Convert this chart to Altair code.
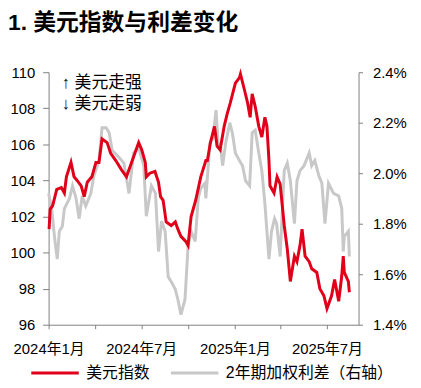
import altair as alt
import pandas as pd

# ---------------- data ----------------
dxy_dates = ["2024-01-02","2024-01-04","2024-01-09","2024-01-17","2024-01-26","2024-02-01","2024-02-05","2024-02-14","2024-02-20","2024-02-26",
             "2024-03-05","2024-03-11","2024-03-17","2024-03-26","2024-03-30","2024-04-03","2024-04-09","2024-04-15","2024-04-25","2024-05-02",
             "2024-05-12","2024-05-23","2024-06-02","2024-06-12","2024-06-26","2024-07-02","2024-07-09","2024-07-11","2024-07-18","2024-07-28",
             "2024-08-04","2024-08-08","2024-08-13","2024-08-19","2024-08-29","2024-09-06","2024-09-11","2024-09-17","2024-09-27","2024-10-01",
             "2024-10-07","2024-10-16","2024-10-26","2024-11-05","2024-11-08","2024-11-14","2024-11-22","2024-11-27","2024-12-03","2024-12-11",
             "2024-12-17","2024-12-23","2025-01-02","2025-01-10","2025-01-12","2025-01-20","2025-01-26","2025-01-31","2025-02-04","2025-02-10",
             "2025-02-17","2025-02-23","2025-03-01","2025-03-05","2025-03-09","2025-03-11","2025-03-19","2025-03-25","2025-03-31","2025-04-08",
             "2025-04-14","2025-04-20","2025-04-28","2025-05-03","2025-05-09","2025-05-13","2025-05-19","2025-05-27","2025-06-01","2025-06-11",
             "2025-06-17","2025-06-25","2025-07-01","2025-07-10","2025-07-16","2025-07-24","2025-07-30","2025-08-02","2025-08-04","2025-08-12",
             "2025-08-14"]
dxy_values = [101.3,102.4,102.6,103.5,103.6,103.3,104.2,105.0,104.2,104.0,
              103.7,103.1,103.9,104.2,104.6,105.0,105.0,106.3,106.1,105.5,
              105.1,104.6,104.2,105.0,106.1,105.7,105.0,104.2,104.4,104.5,
              103.9,103.1,102.9,101.7,101.5,101.7,101.3,100.9,100.6,100.4,
              102.0,102.9,104.2,105.1,105.1,106.1,107.0,105.9,105.7,107.0,
              107.7,108.3,109.4,109.7,109.9,109.0,108.3,107.5,108.8,108.1,
              107.0,106.4,107.5,107.0,105.1,103.7,103.3,104.2,103.8,101.5,
              100.2,98.4,99.8,99.5,100.4,101.3,99.8,99.5,99.1,98.9,
              98.0,97.6,96.9,97.6,98.5,97.3,98.7,99.8,98.9,98.4,
              97.8]

spread_dates = ["2024-01-01","2024-01-07","2024-01-13","2024-01-18","2024-01-22","2024-01-28","2024-02-01","2024-02-11","2024-02-17","2024-02-24",
                "2024-03-01","2024-03-07","2024-03-14","2024-03-24","2024-03-30","2024-04-09","2024-04-15","2024-04-23","2024-04-29","2024-05-05",
                "2024-05-15","2024-05-28","2024-06-07","2024-06-16","2024-06-26","2024-07-06","2024-07-11","2024-07-21","2024-07-29","2024-08-04",
                "2024-08-10","2024-08-17","2024-08-23","2024-08-29","2024-09-06","2024-09-11","2024-09-17","2024-09-25","2024-10-01","2024-10-07",
                "2024-10-15","2024-10-21","2024-10-26","2024-11-03","2024-11-05","2024-11-13","2024-11-19","2024-11-25","2024-11-29","2024-12-04",
                "2024-12-08","2024-12-14","2024-12-22","2024-12-27","2025-01-02","2025-01-10","2025-01-16","2025-01-22","2025-01-30","2025-02-04",
                "2025-02-10","2025-02-17","2025-02-23","2025-03-01","2025-03-09","2025-03-14","2025-03-20","2025-03-24","2025-03-31","2025-04-08",
                "2025-04-14","2025-04-20","2025-04-28","2025-05-03","2025-05-09","2025-05-17","2025-05-27","2025-06-01","2025-06-07","2025-06-15",
                "2025-06-21","2025-06-27","2025-07-04","2025-07-14","2025-07-24","2025-07-30","2025-08-02","2025-08-04","2025-08-12","2025-08-14"]
spread_values = [1.92,1.86,1.74,1.66,1.77,1.79,1.86,1.90,1.95,1.90,
                 1.82,1.91,1.87,1.92,1.99,2.05,2.18,2.18,2.16,2.09,
                 2.07,2.04,1.92,2.08,2.10,2.03,1.83,1.95,1.92,1.69,
                 1.81,1.77,1.59,1.57,1.54,1.50,1.44,1.50,1.71,1.77,
                 1.73,1.90,1.94,1.96,1.90,2.12,2.14,2.25,2.12,2.10,
                 2.03,2.12,2.20,2.16,2.08,2.05,2.03,1.97,1.95,2.16,
                 2.17,2.08,2.01,1.88,1.66,1.77,1.82,1.80,1.67,2.01,
                 2.04,1.97,1.80,1.97,2.01,2.03,2.08,2.03,2.05,1.99,
                 1.96,1.80,1.96,1.92,1.91,1.86,1.69,1.75,1.77,1.67]

series_names = ["美元指数", "2年期加权利差（右轴）"]
series_colors = ["#E1001A", "#C8C8C8"]
left_ticks = [96, 98, 100, 102, 104, 106, 108, 110]
right_ticks = [1.4, 1.6, 1.8, 2.0, 2.2, 2.4]
tick_months = [(2024, 1), (2024, 4), (2024, 7), (2024, 10), (2025, 1), (2025, 4), (2025, 7)]
x_start = (2024, 1)
x_end = (2025, 9)
annot_texts = ["↑ 美元走强", "↓ 美元走弱"]
title_text = "1. 美元指数与利差变化"

FONT = "Liberation Sans, Noto Sans CJK SC"
AXIS_COLOR = "#808080"

dxy_df = pd.DataFrame({"date": dxy_dates, "value": dxy_values, "series": series_names[0]})
spread_df = pd.DataFrame({"date": spread_dates, "value": spread_values, "series": series_names[1]})

x_enc = alt.X(
    "date:T",
    scale=alt.Scale(
        type="utc",
        domain=[alt.DateTime(year=x_start[0], month=x_start[1], date=1, utc=True),
                alt.DateTime(year=x_end[0], month=x_end[1], date=1, utc=True)],
    ),
    axis=alt.Axis(
        values=[alt.DateTime(year=y, month=m, date=1, utc=True) for y, m in tick_months],
        labelExpr="utcmonth(datum.value) % 6 == 0 ? utcFormat(datum.value, '%Y年%-m月') : ''",
        title=None, grid=False, tickSize=4, labelPadding=13, labelFlush=False,
        labelFontSize=15, labelFont=FONT, labelColor="#000",
        domainColor=AXIS_COLOR, tickColor=AXIS_COLOR, labelOverlap=False,
    ),
)

color_enc = alt.Color(
    "series:N",
    scale=alt.Scale(domain=series_names, range=series_colors),
    legend=alt.Legend(
        title=None, orient="none", legendX=-19, legendY=278, direction="horizontal",
        symbolType="stroke", symbolSize=2304, symbolStrokeWidth=3,
        labelFontSize=16, labelFont=FONT, labelColor="#000", labelLimit=400,
        labelOffset=6, columnPadding=14, padding=0,
    ),
)

red = alt.Chart(dxy_df).mark_line(strokeWidth=3).encode(
    x=x_enc,
    y=alt.Y("value:Q",
            scale=alt.Scale(domain=[left_ticks[0], left_ticks[-1]], nice=False, zero=False),
            axis=alt.Axis(orient="left", values=left_ticks, title=None, grid=False,
                          tickSize=6, labelPadding=8, labelFontSize=15, labelFont=FONT,
                          labelColor="#000", domainColor=AXIS_COLOR, tickColor=AXIS_COLOR, format="d")),
    color=color_enc,
)

gray = alt.Chart(spread_df).mark_line(strokeWidth=3).encode(
    x=x_enc,
    y=alt.Y("value:Q",
            scale=alt.Scale(domain=[right_ticks[0], right_ticks[-1]], nice=False, zero=False),
            axis=alt.Axis(orient="right", values=right_ticks, title=None, grid=False,
                          tickSize=4, labelPadding=10, labelFontSize=15, labelFont=FONT,
                          labelColor="#000", domainColor=AXIS_COLOR, tickColor=AXIS_COLOR,
                          labelExpr="format(datum.value, '.1f') + '%'")),
    color=color_enc,
)

ann1 = alt.Chart(pd.DataFrame({"t": [annot_texts[0]]})).mark_text(
    align="left", baseline="middle", fontSize=17, font=FONT, color="#000"
).encode(text="t:N", x=alt.value(13), y=alt.value(10.5))
ann2 = alt.Chart(pd.DataFrame({"t": [annot_texts[1]]})).mark_text(
    align="left", baseline="middle", fontSize=17, font=FONT, color="#000"
).encode(text="t:N", x=alt.value(13), y=alt.value(32.5))

chart = alt.layer(gray, red, ann1, ann2).resolve_scale(y="independent").properties(
    width=313, height=255,
    title=alt.TitleParams(title_text, anchor="start", frame="group", dx=-41, offset=31,
                          fontSize=23, fontWeight="bold", font=FONT, color="#000"),
    autosize=alt.AutoSizeParams(type="none"),
    padding={"left": 41, "top": 63, "right": 55, "bottom": 56},
).configure_view(stroke=None)

chart.save("out.html", embed_options={"renderer": "svg", "actions": False})
